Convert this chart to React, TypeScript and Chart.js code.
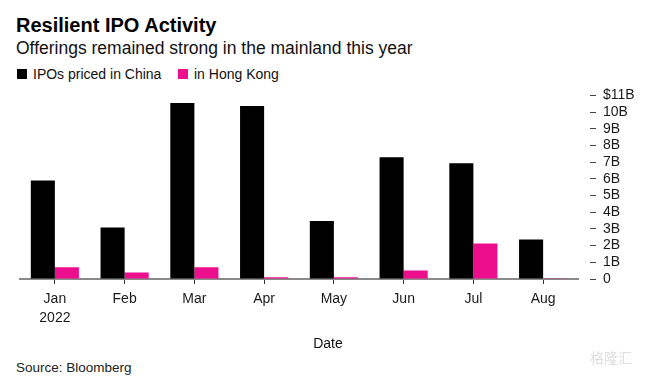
import React, { useEffect, useRef } from "react";
import { Chart, registerables } from "chart.js";

Chart.register(...registerables);

const categories: (string | string[])[] = [["Jan", "2022"], "Feb", "Mar", "Apr", "May", "Jun", "Jul", "Aug"];
const chinaValues = [5.9, 3.09, 10.54, 10.36, 3.47, 7.3, 6.94, 2.37];
const hongKongValues = [0.71, 0.39, 0.71, 0.11, 0.11, 0.51, 2.13, 0.05];
const yTickMax = 11;
const seriesNames = ["IPOs priced in China", "in Hong Kong"];
const seriesColors = ["#000000", "#ec0e8c"];

const FONT = "'Liberation Sans', Arial, Helvetica, sans-serif";

export default function App() {
  const canvasRef = useRef<HTMLCanvasElement | null>(null);

  useEffect(() => {
    if (!canvasRef.current) return;
    const chart = new Chart(canvasRef.current, {
      type: "bar",
      data: {
        labels: categories,
        datasets: [
          {
            label: seriesNames[0],
            data: chinaValues,
            backgroundColor: seriesColors[0],
            categoryPercentage: 0.69,
            barPercentage: 1.0,
          },
          {
            label: seriesNames[1],
            data: hongKongValues,
            backgroundColor: seriesColors[1],
            categoryPercentage: 0.69,
            barPercentage: 1.0,
          },
        ],
      },
      options: {
        animation: false,
        responsive: true,
        maintainAspectRatio: false,
        layout: { padding: { left: 20, right: 0, top: 15, bottom: 12 } },
        plugins: {
          legend: { display: false },
          tooltip: { enabled: false },
          title: { display: false },
        },
        scales: {
          x: {
            afterFit: (scale: any) => {
              scale.height = 45;
            },
            grid: {
              display: true,
              drawOnChartArea: false,
              drawTicks: true,
              offset: false,
              tickLength: 5,
              tickColor: "#333333",
              tickWidth: 1,
            },
            border: { display: true, color: "#8a8a8a", width: 2 },
            ticks: {
              color: "#1a1a1a",
              padding: 5,
              font: { family: FONT, size: 14, lineHeight: 1.4 },
              maxRotation: 0,
              autoSkip: false,
            },
          },
          y: {
            position: "right",
            min: 0,
            max: yTickMax,
            afterFit: (scale: any) => {
              scale.width = 78;
            },
            grid: {
              display: true,
              drawOnChartArea: false,
              drawTicks: true,
              tickLength: 18,
              tickColor: "#444444",
              tickWidth: 1,
              tickBorderDash: [0, 12, 6, 100],
            } as any,
            border: { display: false },
            ticks: {
              stepSize: 1,
              autoSkip: false,
              padding: 7,
              color: "#1a1a1a",
              font: { family: FONT, size: 14 },
              callback: (v: any) => {
                const n = Number(v);
                if (n === 0) return "0";
                if (n === yTickMax) return "$" + n + "B";
                return n + "B";
              },
            },
          },
        },
      },
    });
    return () => chart.destroy();
  }, []);

  const abs = (s: React.CSSProperties): React.CSSProperties => ({ position: "absolute", whiteSpace: "nowrap", ...s });

  return (
    <div
      style={{
        position: "fixed",
        left: 0,
        top: 0,
        width: 656,
        height: 380,
        background: "#ffffff",
        fontFamily: FONT,
        color: "#000",
        overflow: "hidden",
      }}
    >
      <div style={abs({ left: 16, top: 14.5, fontSize: 20, lineHeight: "20px", fontWeight: 700, color: "#000" })}>
        Resilient IPO Activity
      </div>
      <div style={abs({ left: 16, top: 40, fontSize: 17.5, lineHeight: "17.5px", color: "#111" })}>
        Offerings remained strong in the mainland this year
      </div>
      <div style={abs({ left: 17, top: 69, width: 10, height: 10, background: seriesColors[0] })} />
      <div style={abs({ left: 33, top: 67, fontSize: 14, lineHeight: "14px", color: "#111" })}>{seriesNames[0]}</div>
      <div style={abs({ left: 178, top: 69, width: 10, height: 10, background: seriesColors[1] })} />
      <div style={abs({ left: 194, top: 67, fontSize: 14, lineHeight: "14px", color: "#111" })}>{seriesNames[1]}</div>

      <div style={abs({ left: 0, top: 80, width: 656, height: 256 })}>
        <canvas ref={canvasRef} />
      </div>

      <div style={abs({ left: 0, top: 336, width: 656, textAlign: "center", fontSize: 14, lineHeight: "14px", color: "#111" })}>
        Date
      </div>
      <div style={abs({ left: 16, top: 361, fontSize: 13.5, lineHeight: "13.5px", color: "#222" })}>
        Source: Bloomberg
      </div>
      <div
        style={abs({
          left: 590,
          top: 350,
          fontSize: 14,
          lineHeight: "14px",
          color: "#dddddd",
          fontFamily: "'Noto Sans CJK SC', sans-serif",
        })}
      >
        格隆汇
      </div>
    </div>
  );
}
